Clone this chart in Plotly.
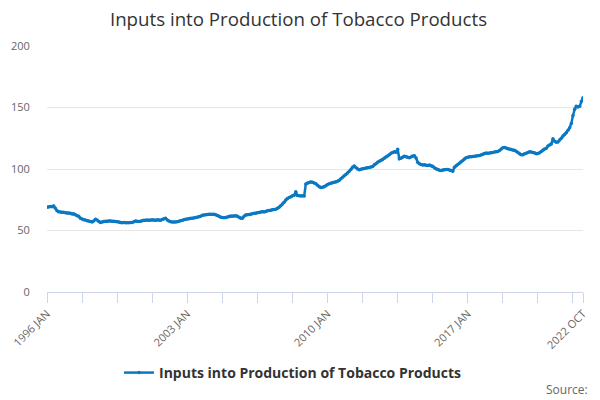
import plotly.graph_objects as go

# monthly index values, Jan 1996 - Oct 2022
months = ['JAN', 'FEB', 'MAR', 'APR', 'MAY', 'JUN', 'JUL', 'AUG', 'SEP', 'OCT', 'NOV', 'DEC']
years = list(range(1996, 2023))

v1996 = [69.0, 69.2, 69.5, 69.3, 70.0, 68.0, 66.0, 65.3, 65.0, 64.8, 64.8, 64.5]
v1997 = [64.3, 64.2, 64.0, 63.5, 63.6, 62.8, 62.0, 61.5, 60.0, 59.3, 58.8, 58.5]
v1998 = [58.0, 57.7, 57.3, 56.9, 57.8, 59.2, 58.5, 57.3, 56.6, 57.0, 57.3, 57.5]
v1999 = [57.6, 57.8, 57.7, 57.5, 57.6, 57.3, 57.2, 57.0, 56.6, 56.4, 56.5, 56.4]
v2000 = [56.4, 56.3, 56.5, 56.6, 57.2, 57.7, 57.5, 57.3, 57.6, 58.0, 58.3, 58.4]
v2001 = [58.5, 58.4, 58.6, 58.8, 58.5, 58.4, 58.7, 58.6, 58.3, 58.9, 59.5, 59.9]
v2002 = [58.6, 57.8, 57.2, 57.0, 56.9, 57.0, 57.2, 57.6, 58.0, 58.3, 58.8, 59.1]
v2003 = [59.3, 59.6, 59.9, 60.0, 60.2, 60.5, 60.8, 61.2, 61.6, 62.3, 62.6, 62.8]
v2004 = [63.0, 63.2, 63.3, 63.2, 63.2, 62.8, 62.2, 61.5, 60.8, 60.5, 60.4, 60.6]
v2005 = [61.0, 61.4, 61.8, 61.7, 61.8, 61.9, 61.5, 60.8, 60.0, 59.9, 61.5, 62.6]
v2006 = [62.8, 63.0, 63.3, 63.6, 64.0, 64.1, 64.4, 64.7, 65.0, 65.3, 65.1, 65.4]
v2007 = [66.0, 66.2, 66.5, 66.8, 67.0, 67.2, 68.0, 69.0, 70.2, 71.5, 73.0, 74.8]
v2008 = [76.0, 76.8, 77.5, 78.3, 78.6, 81.5, 78.4, 78.2, 78.0, 78.3, 78.0, 87.8]
v2009 = [88.6, 89.0, 89.5, 89.3, 88.6, 88.0, 86.8, 85.6, 85.0, 85.2, 85.6, 86.4]
v2010 = [87.5, 88.0, 88.4, 88.8, 89.2, 89.4, 90.0, 90.8, 92.0, 93.2, 94.5, 95.6]
v2011 = [96.8, 98.2, 99.5, 101.5, 102.4, 101.2, 100.0, 99.4, 99.8, 100.2, 100.5, 100.8]
v2012 = [101.0, 101.3, 101.6, 102.0, 103.5, 104.3, 105.5, 106.3, 107.0, 107.8, 108.8, 109.8]
v2013 = [110.5, 111.6, 112.8, 113.5, 114.0, 113.6, 116.0, 108.3, 108.8, 109.6, 110.4, 110.0]
v2014 = [109.5, 109.2, 109.8, 110.5, 110.8, 109.0, 105.5, 104.3, 103.6, 103.2, 103.4, 103.0]
v2015 = [102.8, 103.2, 102.6, 102.2, 101.0, 100.2, 99.6, 98.9, 98.7, 99.2, 99.4, 99.6]
v2016 = [99.5, 99.2, 98.8, 98.2, 101.5, 102.6, 103.6, 104.6, 105.8, 107.0, 108.2, 109.2]
v2017 = [109.6, 109.9, 110.0, 110.2, 110.3, 110.6, 110.7, 111.0, 111.4, 112.0, 112.6, 113.0]
v2018 = [112.8, 113.0, 113.2, 113.5, 113.8, 114.0, 114.3, 115.0, 116.2, 117.2, 117.4, 117.0]
v2019 = [116.5, 116.2, 115.8, 115.5, 115.2, 114.4, 113.5, 112.4, 111.6, 111.5, 112.3, 112.8]
v2020 = [113.5, 114.0, 113.8, 113.5, 113.0, 112.5, 112.6, 113.3, 114.3, 115.4, 116.2, 116.8]
v2021 = [118.8, 119.6, 120.4, 124.5, 122.6, 121.8, 122.0, 123.5, 125.0, 126.8, 128.0, 129.5]
v2022 = [131.5, 133.5, 137.0, 143.5, 148.5, 151.0, 150.5, 151.0, 155.0, 158.0]

values = (v1996 + v1997 + v1998 + v1999 + v2000 + v2001 + v2002 + v2003 + v2004
          + v2005 + v2006 + v2007 + v2008 + v2009 + v2010 + v2011 + v2012 + v2013
          + v2014 + v2015 + v2016 + v2017 + v2018 + v2019 + v2020 + v2021 + v2022)

labels = [f'{y} {m}' for y in years for m in months][:len(values)]
idx = list(range(len(values)))

# ticks every 21 months, labels every 84, plus the last month
tick_pos = list(range(0, len(values), 21)) + [len(values) - 1]
tick_txt = [labels[p] if (p % 84 == 0 or p == len(values) - 1) else '' for p in tick_pos]

fig = go.Figure()
fig.add_trace(go.Scatter(
    x=idx, y=values, text=labels, mode='lines+markers',
    name='<b>Inputs into Production of Tobacco Products</b>',
    line=dict(color='#0a78c2', width=2.5),
    marker=dict(color='#0a78c2', size=3.5),
    hovertemplate='%{text}: %{y}<extra></extra>'))

# the page body adds an 8px margin, so the figure is 592x392 and offset for it
fig.update_layout(
    width=592, height=392,
    margin=dict(l=38.7, r=16.7, t=38, b=108),
    paper_bgcolor='white', plot_bgcolor='white',
    font=dict(family='Open Sans, sans-serif', color='#666666'),
    title=dict(text='Inputs into Production of Tobacco Products',
               x=0.4907, xanchor='center', xref='container',
               y=0.972, yanchor='middle', yref='container', automargin=False,
               font=dict(size=18.7, color='#333333')),
    showlegend=True,
    legend=dict(orientation='h', x=0.459, xanchor='center', xref='paper',
                y=0.0689, yanchor='middle', yref='container',
                font=dict(size=14, color='#333333'), itemwidth=30),
    annotations=[dict(text='Source:', xref='paper', yref='paper', x=1.0125, y=-0.398,
                      xanchor='right', yanchor='middle', showarrow=False,
                      font=dict(size=12, color='#666666'))],
)

fig.update_xaxes(range=[0, len(values) - 1], tickvals=tick_pos, ticktext=tick_txt,
                 tickangle=-45, showgrid=False, zeroline=False, automargin=False,
                 showline=True, linecolor='#ccd6eb', linewidth=1,
                 ticks='outside', ticklen=10, tickcolor='#ccd6eb',
                 tickfont=dict(size=11, color='#666666'))
fig.update_yaxes(range=[0, 200], tickvals=[0, 50, 100, 150, 200],
                 showgrid=True, gridcolor='#e6e6e6', zeroline=False, automargin=False,
                 ticks='outside', ticklen=14, tickcolor='rgba(0,0,0,0)',
                 tickfont=dict(size=11, color='#666666'))

fig.write_html('out.html')
